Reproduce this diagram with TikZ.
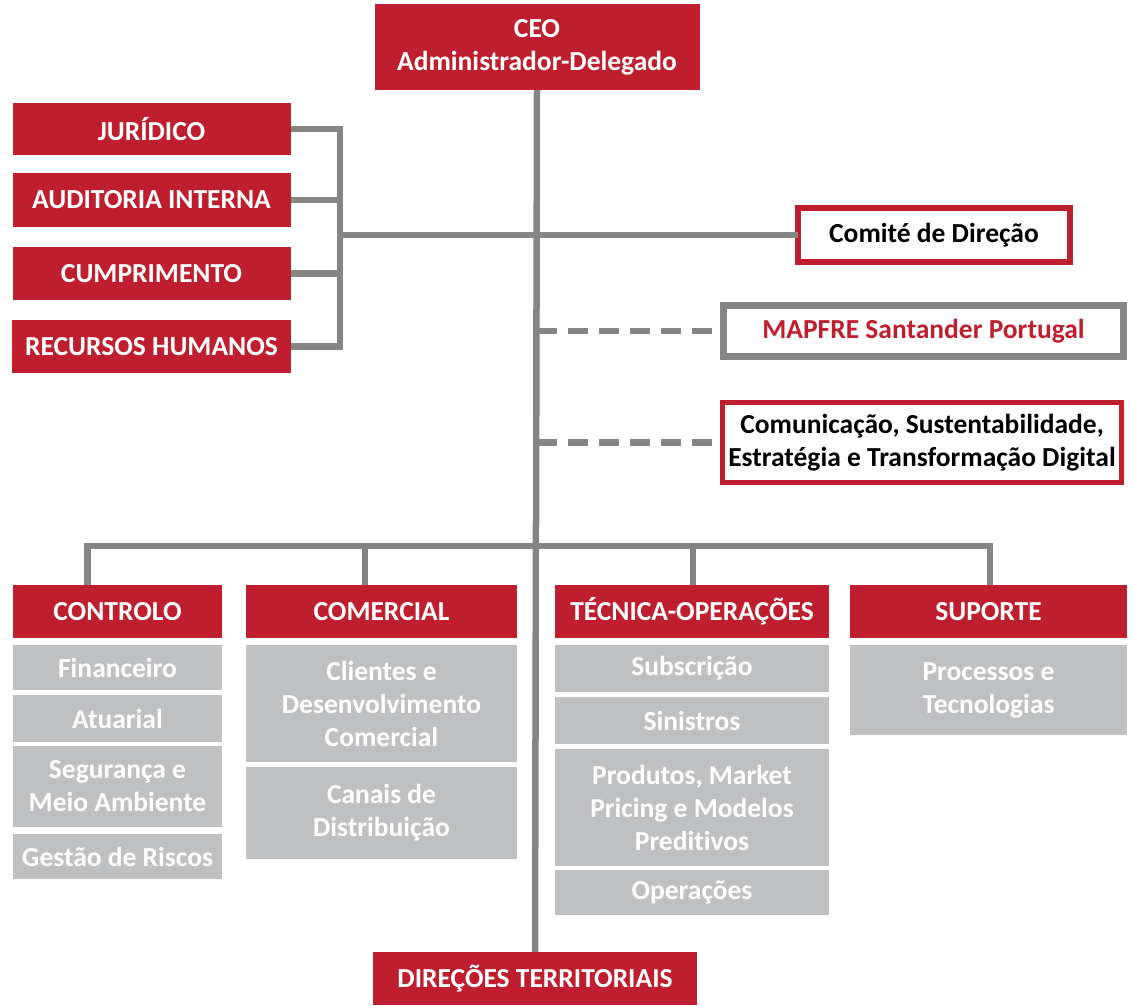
\documentclass[tikz,border=0pt]{standalone}
\usepackage{fontspec}
\setmainfont{Carlito}[Ligatures=NoCommon]
\usepackage{xcolor}
\definecolor{mapfre-red}{HTML}{BE1E2D}
\definecolor{line-gray}{HTML}{858585}
\definecolor{box-gray}{HTML}{BFC0C2}

\begin{document}
\begin{tikzpicture}[x=1pt, y=-1pt,
        every node/.style={font=\fontsize{27.5}{33}\selectfont\bfseries,
          inner sep=0pt, outer sep=0pt, align=center},
        redbox/.style={fill=mapfre-red, text=white},
        graybox/.style={fill=box-gray, text=white},
        conn/.style={draw=line-gray, line width=6.5pt},
        dashconn/.style={conn, dash pattern=on 20pt off 11pt}]
      \useasboundingbox (0,0) rectangle (1134,1005);
      % top
      \node[redbox, minimum width=325pt, minimum height=86pt]
            (CEO) at (537,47) {CEO\\Administrador-Delegado};
      \node[redbox, minimum width=324pt, minimum height=53pt]
            (DT) at (535,978.5) {DIREÇÕES TERRITORIAIS};
      % staff functions
      \node[redbox, minimum width=278pt, minimum height=52pt]
            (JUR) at (151.5,129) {JURÍDICO};
      \node[redbox, minimum width=278pt, minimum height=54pt]
            (AUD) at (151.5,200) {AUDITORIA INTERNA};
      \node[redbox, minimum width=278pt, minimum height=53pt]
            (CUM) at (151.5,273.5) {CUMPRIMENTO};
      \node[redbox, minimum width=279pt, minimum height=53pt]
            (RH) at (151.5,346.5) {RECURSOS HUMANOS};
      % committees
      \node[draw=mapfre-red, line width=6pt, fill=white,
            minimum width=272pt, minimum height=54pt]
            (CDIR) at (934,235) {Comité de Direção};
      \node[draw=line-gray, line width=7pt, fill=white, text=mapfre-red,
            minimum width=400pt, minimum height=51pt]
            (MSP) at (923.5,331) {MAPFRE Santander Portugal};
      \node[draw=mapfre-red, line width=5pt, fill=white,
            minimum width=399pt, minimum height=80pt]
            (CSTD) at (922,442.5) {Comunicação, Sustentabilidade,\\
              Estratégia e Transformação Digital};
      % areas
      \node[redbox, minimum width=209pt, minimum height=53pt]
            (CTRL) at (117.5,611.5) {CONTROLO};
      \node[redbox, minimum width=271pt, minimum height=53pt]
            (COMER) at (381.5,611.5) {COMERCIAL};
      \node[redbox, minimum width=274pt, minimum height=53pt]
            (TEC) at (692,611.5) {TÉCNICA-OPERAÇÕES};
      \node[redbox, minimum width=277pt, minimum height=53pt]
            (SUP) at (988.5,611.5) {SUPORTE};
      % controlo
      \node[graybox, minimum width=209pt, minimum height=45pt]
            (FIN) at (117.5,667.5) {Financeiro};
      \node[graybox, minimum width=209pt, minimum height=47pt]
            (ATU) at (117.5,718.5) {Atuarial};
      \node[graybox, minimum width=209pt, minimum height=81pt]
            (SEG) at (117.5,786.5) {Segurança e\\Meio Ambiente};
      \node[graybox, minimum width=209pt, minimum height=45pt]
            (GRI) at (117.5,856.5) {Gestão de Riscos};
      % comercial
      \node[graybox, minimum width=271pt, minimum height=117pt]
            (CLI) at (381.5,703.5) {Clientes e\\Desenvolvimento\\Comercial};
      \node[graybox, minimum width=271pt, minimum height=92pt]
            (CAN) at (381.5,813) {Canais de\\Distribuição};
      % tecnica-operacoes
      \node[graybox, minimum width=274pt, minimum height=47pt]
            (SUB) at (692,668.5) {Subscrição};
      \node[graybox, minimum width=274pt, minimum height=47pt]
            (SIN) at (692,720.5) {Sinistros};
      \node[graybox, minimum width=274pt, minimum height=117pt]
            (PMP) at (692,807.5) {Produtos, Market\\Pricing e Modelos\\Preditivos};
      \node[graybox, minimum width=274pt, minimum height=45pt]
            (OPE) at (692,892.5) {Operações};
      % suporte
      \node[graybox, minimum width=277pt, minimum height=90pt]
            (PRT) at (988.5,690) {Processos e\\Tecnologias};
      % connectors
      \coordinate (BRK) at (340,235);
      \coordinate (BUS) at (537,546);
      \draw[conn] (CEO.south) -- (DT.north);
      \draw[conn] (JUR.east) -| (BRK) |- (RH.east);
      \draw[conn] (AUD.east) -- (AUD.east -| BRK);
      \draw[conn] (CUM.east) -- (CUM.east -| BRK);
      \draw[conn] (BRK) -- (CDIR.west);
      \draw[dashconn] (MSP.west -| CEO.south) -- (MSP.west);
      \draw[dashconn] (CSTD.west -| CEO.south) -- (CSTD.west);
      \draw[conn] ([xshift=-30]CTRL.north) |- (BUS) -| ([xshift=1.5]SUP.north);
      \draw[conn] ([xshift=-16.5]COMER.north) -- ([xshift=-16.5]COMER.north |- BUS);
      \draw[conn] ([xshift=1]TEC.north) -- ([xshift=1]TEC.north |- BUS);
    \end{tikzpicture}
\end{document}
